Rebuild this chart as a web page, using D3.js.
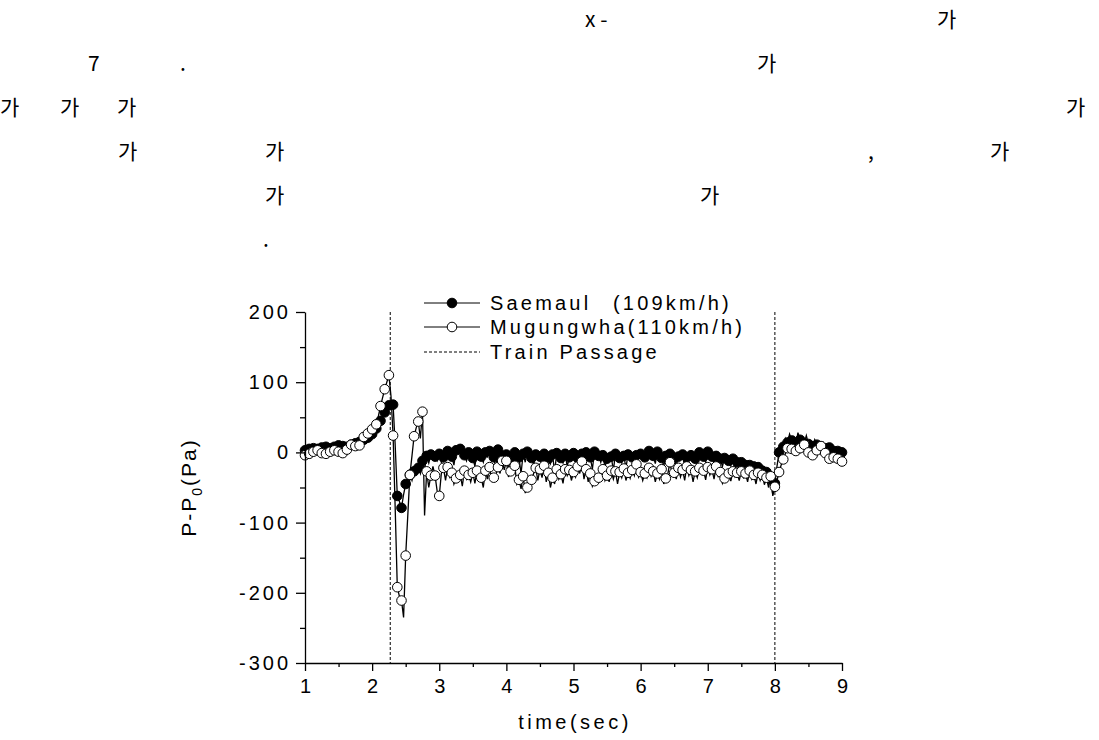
<!DOCTYPE html>
<html>
<head>
<meta charset="utf-8">
<title>Train passage pressure</title>
<script src="https://d3js.org/d3.v7.min.js"></script>
<style>
	body { margin:0; background:#fff; }
	svg { display:block; }
	.axis text, .lbl { font-family: Arial, "Liberation Sans", sans-serif; fill:#000; }
	.kor { font-family: "Noto Sans CJK KR", sans-serif; font-size:21px; fill:#000; }
</style>
</head>
<body>
<script>

	// sampling of the recorded traces (sec); a marker sits on every 2nd sample
	var timeStart = 1, timeStep = 1 / 32;

	// Saemaul (109km/h), P-P0 in Pa
	var saemaul = [
		3,1, 5,4, 6,2, 5,6, 7,3, 8,7, 6,5, 8,6,
		10,8, 9,10, 8,9, 11,12, 13,14, 15,16, 18,19, 21,23,
		26,30, 34,39, 45,51, 57,62, 67,72, 68,10, -62,-70, -79,-60,
		-45,-38, -32,-40, -27,-18, -22,-30, -12,-25, -5,-15, -3,-8, -6,-12,
		-2,-14, -7,-6, 2,-4, -6,-18, 3,-2, 5,1, -4,-12, 0,-5,
		-8,-20, 1,-3, -6,-14, 0,-6, 2,-2, -7,-24, 4,-3, -5,-13,
		-3,-22, -9,-8, 0,-5, -7,-30, -2,-14, 1,-4, -8,-18, -3,-7,
		-6,-24, -2,-9, -9,-16, -3,-28, -1,-6, -8,-15, -2,-20, -7,-8,
		-1,-5, -8,-19, -2,-9, 0,-4, -7,-24, 1,-6, -5,-14, -4,-21,
		-9,-12, -6,-26, -2,-8, -8,-15, -5,-22, -3,-7, -7,-18, -4,-9,
		-2,-6, -7,-4, 2,-3, -5,-16, 1,-5, -8,-20, -5,-11, -2,-7,
		-8,-19, -6,-10, -3,-22, -7,-6, -4,-13, -9,-18, 0,-5, -6,-14,
		1,-4, -6,-16, -5,-9, -9,-20, -8,-15, -12,-19, -9,-24, -14,-17,
		-14,-26, -18,-22, -18,-31, -20,-24, -21,-34, -26,-31, -28,-40, -38,-60,
		-44,-20, 0,5, 8,20, 14,26, 17,22, 12,28, 18,21, 13,24,
		12,16, 8,18, 11,9, 6,14, 6,8, 7,4, 2,6, 2,-2,
		0
	];

	// Mugungwha (110km/h)
	var mugungwha = [
		-4,-2, -2,0, 1,2, 3,1, -1,-3, -2,0, 1,3, 3,2,
		1,-1, -1,2, 4,8, 11,10, 9,8, 10,15, 22,24, 27,30,
		33,36, 40,52, 66,78, 90,100, 110,80, 24,-80, -192,-205, -211,-235,
		-147,-90, -32,-5, 23,35, 44,20, 58,-90, -27,-50, -33,-20, -33,-55,
		-62,-30, -22,-40, -21,-35, -29,-45, -37,-30, -32,-48, -26,-38, -32,-42,
		-29,-44, -26,-35, -36,-50, -26,-38, -21,-40, -36,-32, -21,-30, -12,-25,
		-12,-35, -27,-30, -19,-45, -39,-52, -34,-58, -50,-46, -39,-30, -22,-40,
		-24,-36, -19,-42, -29,-50, -36,-45, -24,-38, -31,-44, -24,-33, -25,-40,
		-28,-35, -20,-30, -13,-38, -24,-42, -30,-48, -41,-44, -36,-35, -24,-40,
		-33,-42, -26,-38, -27,-45, -28,-36, -23,-40, -29,-37, -25,-33, -17,-35,
		-28,-40, -30,-36, -22,-34, -27,-42, -30,-38, -24,-45, -37,-30, -14,-32,
		-29,-38, -22,-35, -25,-40, -20,-33, -25,-42, -27,-36, -22,-30, -26,-39,
		-21,-32, -24,-38, -20,-34, -28,-44, -37,-36, -30,-41, -27,-35, -29,-40,
		-27,-36, -30,-42, -26,-38, -32,-45, -29,-40, -32,-46, -36,-50, -34,-62,
		-49,-40, -28,-18, -10,-2, 6,3, 5,0, 2,4, 6,8, 11,5,
		0,-2, -4,1, 3,6, 9,4, -1,-5, -9,-4, -7,-10, -9,-11,
		-13
	];

	var passageTimes = [2.27, 8.0];

	var xMajor = [1, 2, 3, 4, 5, 6, 7, 8, 9];
	var xMinor = [1.5, 2.5, 3.5, 4.5, 5.5, 6.5, 7.5, 8.5];
	var yMajor = [-300, -200, -100, 0, 100, 200];
	var yMinor = [-250, -150, -50, 50, 150];

	// fragments of the paragraph above the figure (row, left x, text)
	var bodyText = [
		[0, 585, "x -"], [0, 937, "가"],
		[1, 88, "7"], [1, 180, "."], [1, 757, "가"],
		[2, 0, "가"], [2, 60, "가"], [2, 117, "가"], [2, 1066, "가"],
		[3, 118, "가"], [3, 265, "가"], [3, 868, ","], [3, 990, "가"],
		[4, 265, "가"], [4, 700, "가"],
		[5, 263, "."]
	];

	var W = 1099, H = 740;
	var svg = d3.select("body").append("svg").attr("width", W).attr("height", H);

	// paragraph text
	svg.selectAll("text.kor")
		.data(bodyText)
		.enter().append("text")
			.attr("class", "kor")
			.attr("x", function(d){ return d[1]; })
			.attr("y", function(d){ return 27 + d[0] * 44; })
			.text(function(d){ return d[2]; });

	var x = d3.scaleLinear().domain([1, 9]).range([305, 842]);
	var y = d3.scaleLinear().domain([-300, 200]).range([663, 312]);

	function series(arr){
		return arr.map(function(v, i){ return {t: timeStart + i * timeStep, v: v, i: i}; });
	}
	var sData = series(saemaul), mData = series(mugungwha);

	var line = d3.line()
		.x(function(d){ return x(d.t); })
		.y(function(d){ return y(d.v); });

	var R = 4.8;

	// train passage markers
	svg.selectAll("line.pass")
		.data(passageTimes)
		.enter().append("line")
			.attr("class", "pass")
			.attr("x1", function(d){ return x(d); })
			.attr("x2", function(d){ return x(d); })
			.attr("y1", y(200))
			.attr("y2", y(-300))
			.attr("stroke", "#000")
			.attr("stroke-width", 1)
			.attr("stroke-dasharray", "3,2");

	// Saemaul: line + filled markers
	svg.append("path")
		.datum(sData)
		.attr("d", line)
		.attr("fill", "none")
		.attr("stroke", "#000")
		.attr("stroke-width", 1.3);
	svg.selectAll("circle.s")
		.data(sData.filter(function(d){ return d.i % 2 === 0; }))
		.enter().append("circle")
			.attr("class", "s")
			.attr("cx", function(d){ return x(d.t); })
			.attr("cy", function(d){ return y(d.v); })
			.attr("r", R)
			.attr("fill", "#000")
			.attr("stroke", "#000");

	// Mugungwha: line + open markers
	svg.append("path")
		.datum(mData)
		.attr("d", line)
		.attr("fill", "none")
		.attr("stroke", "#000")
		.attr("stroke-width", 1.3);
	svg.selectAll("circle.m")
		.data(mData.filter(function(d){ return d.i % 2 === 0; }))
		.enter().append("circle")
			.attr("class", "m")
			.attr("cx", function(d){ return x(d.t); })
			.attr("cy", function(d){ return y(d.v); })
			.attr("r", R)
			.attr("fill", "#fff")
			.attr("stroke", "#000")
			.attr("stroke-width", 1);

	// axes: major ticks with labels, minor ticks without
	var plain = function(d){ return String(d); };

	var gx = svg.append("g").attr("class", "axis")
		.attr("transform", "translate(0," + y(-300) + ")");
	gx.call(d3.axisBottom(x).tickValues(xMajor).tickSize(8).tickSizeOuter(0).tickPadding(8).tickFormat(plain));
	gx.append("g").call(d3.axisBottom(x).tickValues(xMinor).tickSize(4).tickSizeOuter(0).tickFormat(""))
		.select(".domain").remove();

	var gy = svg.append("g").attr("class", "axis")
		.attr("transform", "translate(" + x(1) + ",0)");
	gy.call(d3.axisLeft(y).tickValues(yMajor).tickSize(9).tickSizeOuter(0).tickPadding(5).tickFormat(plain));
	gy.append("g").call(d3.axisLeft(y).tickValues(yMinor).tickSize(5).tickSizeOuter(0).tickFormat(""))
		.select(".domain").remove();

	svg.selectAll(".axis path, .axis line").attr("stroke", "#000").attr("stroke-width", 1.3);
	svg.selectAll(".axis text")
		.attr("font-size", 20)
		.attr("font-family", "Arial, 'Liberation Sans', sans-serif")
		.attr("letter-spacing", "3px")
		.attr("fill", "#000");
	// keep x labels centred despite the trailing letter spacing
	gx.selectAll(".tick text").attr("dx", "1.5px");

	// axis titles
	svg.append("text").attr("class", "lbl")
		.attr("x", 575).attr("y", 729)
		.attr("text-anchor", "middle")
		.attr("font-size", 20).attr("letter-spacing", "3.5px")
		.text("time(sec)");

	var yl = svg.append("text").attr("class", "lbl")
		.attr("transform", "translate(196," + y(-50) + ") rotate(-90)")
		.attr("text-anchor", "middle")
		.attr("font-size", 21).attr("letter-spacing", "2px");
	yl.append("tspan").text("P-P");
	yl.append("tspan").attr("font-size", 14).attr("dy", 6).text("0");
	yl.append("tspan").attr("dy", -6).text("(Pa)");

	// legend
	var lg = svg.append("g").attr("transform", "translate(424,0)");
	var rows = [
		{yy: 303, fill: "#000", dash: null},
		{yy: 327, fill: "#fff", dash: null},
		{yy: 352, fill: null, dash: "3,2"}
	];
	rows.forEach(function(r){
		lg.append("line").attr("x1", 0).attr("x2", 56).attr("y1", r.yy).attr("y2", r.yy)
			.attr("stroke", "#000").attr("stroke-width", 1)
			.attr("stroke-dasharray", r.dash);
		if (r.fill) {
			lg.append("circle").attr("cx", 28).attr("cy", r.yy).attr("r", R)
				.attr("fill", r.fill).attr("stroke", "#000");
		}
	});
	var lt1 = lg.append("text").attr("class", "lbl").attr("x", 66).attr("y", 303 + 7)
		.attr("font-size", 20).attr("letter-spacing", "3.2px");
	lt1.append("tspan").text("Saemaul");
	lt1.append("tspan").attr("x", 189).text("(109km/h)");
	lg.append("text").attr("class", "lbl").attr("x", 66).attr("y", 327 + 7)
		.attr("font-size", 20).attr("letter-spacing", "3.2px").text("Mugungwha(110km/h)");
	lg.append("text").attr("class", "lbl").attr("x", 66).attr("y", 352 + 7)
		.attr("font-size", 20).attr("letter-spacing", "3.2px").text("Train Passage");

</script>
</body>
</html>
